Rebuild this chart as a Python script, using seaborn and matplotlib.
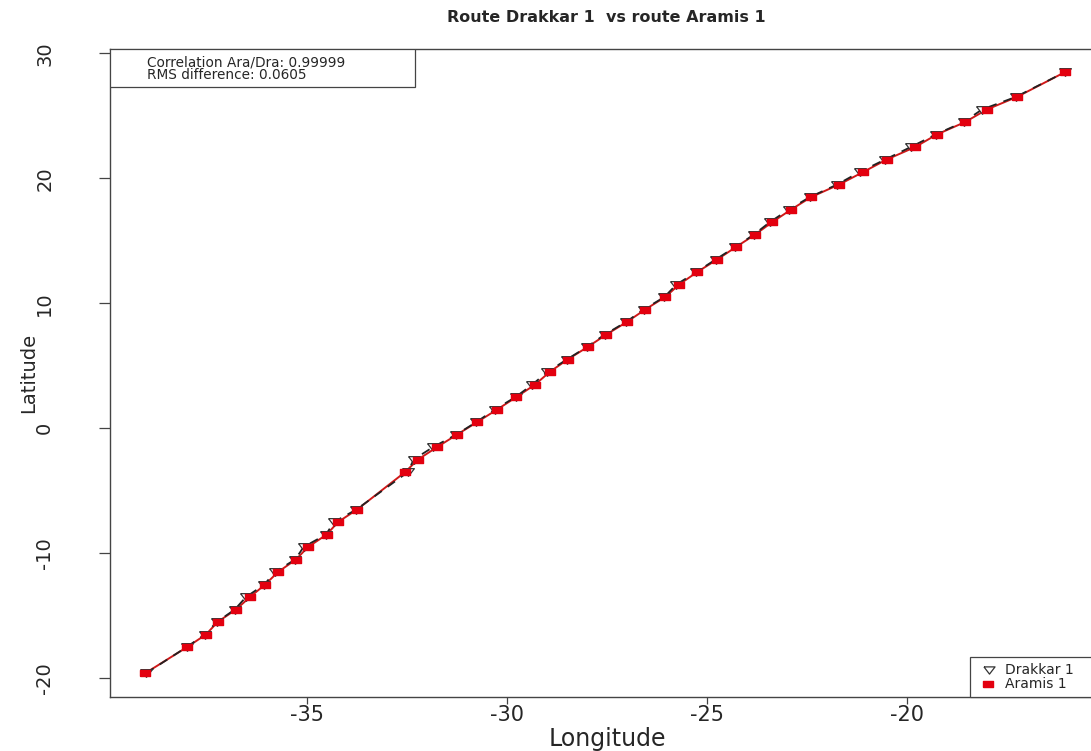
"""
Route comparison plot: Drakkar 1 vs Aramis 1 (longitude / latitude track)
"""
import matplotlib
matplotlib.use("Agg")
import matplotlib.pyplot as plt
import seaborn as sns
import pandas as pd
from matplotlib.lines import Line2D
from matplotlib.patches import Rectangle

# --- data -------------------------------------------------------------------
lat_ara = [-19.6, -17.5, -16.5, -15.5, -14.5, -13.5, -12.5, -11.5, -10.5, -9.5,
           -8.5, -7.5, -6.5, -3.5, -2.5, -1.5, -0.5, 0.5, 1.5, 2.5,
           3.5, 4.5, 5.5, 6.5, 7.5, 8.5, 9.5, 10.5, 11.5, 12.5,
           13.5, 14.5, 15.5, 16.5, 17.5, 18.5, 19.5, 20.5, 21.5, 22.5,
           23.5, 24.5, 25.5, 26.5, 28.5]
lon_ara = [-39.04, -37.99, -37.52, -37.23, -36.77, -36.42, -36.04, -35.72, -35.27, -34.97,
           -34.50, -34.22, -33.74, -32.54, -32.22, -31.74, -31.24, -30.74, -30.24, -29.76,
           -29.29, -28.93, -28.48, -27.98, -27.51, -27.00, -26.54, -26.04, -25.69, -25.24,
           -24.74, -24.27, -23.79, -23.36, -22.89, -22.39, -21.69, -21.09, -20.50, -19.79,
           -19.25, -18.54, -18.00, -17.25, -16.04]

lat_dra = lat_ara
lon_dra = [-39.02, -38.00, -37.55, -37.25, -36.80, -36.52, -36.06, -35.80, -35.29, -35.08,
           -34.52, -34.32, -33.76, -32.47, -32.33, -31.84, -31.26, -30.76, -30.30, -29.78,
           -29.36, -28.99, -28.50, -28.00, -27.55, -27.02, -26.58, -26.06, -25.76, -25.26,
           -24.78, -24.29, -23.82, -23.42, -22.95, -22.42, -21.74, -21.18, -20.54, -19.90,
           -19.28, -18.58, -18.12, -17.28, -16.04]

correlation = 0.99999
rms_diff = 0.0605

df_ara = pd.DataFrame({"lon": lon_ara, "lat": lat_ara})
df_dra = pd.DataFrame({"lon": lon_dra, "lat": lat_dra})

# --- figure -------------------------------------------------------------------
sns.set_style("ticks")
plt.rcParams["font.family"] = ["DejaVu Sans"]
plt.rcParams["axes.unicode_minus"] = False

W, H = 1091, 751
fig = plt.figure(figsize=(W / 100, H / 100), dpi=100)
ax = fig.add_axes([110 / W, 1 - 697 / H, (1104 - 110) / W, 648 / H])

# the reference was stretched sideways: wide markers
wide_square = [(-1, -0.65), (1, -0.65), (1, 0.65), (-1, 0.65), (-1, -0.65)]
wide_tri_down = [(-1, 0.65), (1, 0.65), (0, -0.65), (-1, 0.65)]

red = "#E3000F"
sns.lineplot(data=df_ara, x="lon", y="lat", sort=False, ax=ax,
             color="#D01818", linewidth=1.4, zorder=2)
sns.lineplot(data=df_dra, x="lon", y="lat", sort=False, ax=ax,
             color="#222222", linewidth=1.3, linestyle=(0, (5, 4)), zorder=3)
ax.plot(df_dra["lon"], df_dra["lat"], linestyle="none", marker=wide_tri_down,
        markersize=8.5, markerfacecolor="white", markeredgecolor="#333333",
        markeredgewidth=0.9, zorder=4)
ax.plot(df_ara["lon"], df_ara["lat"], linestyle="none", marker=wide_square,
        markersize=7, markerfacecolor=red, markeredgecolor=red, zorder=5)

ax.set_xlim(-39.92, -15.07)
ax.set_ylim(-21.5, 30.34)
ax.set_xticks([-35, -30, -25, -20])
ax.set_yticks([-20, -10, 0, 10, 20, 30])

for side in ["left", "right", "top", "bottom"]:
    ax.spines[side].set_visible(True)
    ax.spines[side].set_color("#444444")
    ax.spines[side].set_linewidth(1.0)

ax.tick_params(axis="x", length=5, width=0.9, color="#444444", labelsize=15, pad=1)
ax.tick_params(axis="y", length=8, width=0.9, color="#444444", labelsize=14, pad=39)
plt.setp(ax.get_yticklabels(), rotation=90, va="center", ha="center")

ax.set_xlabel("Longitude", fontsize=17)
ax.xaxis.set_label_coords(0.5, -0.046)
ax.set_ylabel("Latitude", fontsize=14)
ax.yaxis.set_label_coords(-0.0724, 0.5)

fig.text(606 / W, 1 - 18 / H, "Route Drakkar 1  vs route Aramis 1",
         ha="center", va="center", fontsize=11.5, fontweight="bold")

# statistics box, top left
ax.add_patch(Rectangle((0, 0.9414), 0.307, 0.0586, transform=ax.transAxes,
                       facecolor="white", edgecolor="#444444", linewidth=0.9, zorder=6))
fig.text(147 / W, 1 - 62 / H, f"Correlation Ara/Dra: {correlation}",
         fontsize=9.8, va="center", ha="left", zorder=7)
fig.text(147 / W, 1 - 75 / H, f"RMS difference: {rms_diff}",
         fontsize=9.8, va="center", ha="left", zorder=7)

# legend, bottom right (drawn by hand so it can run off the right edge like the reference)
fig.add_artist(Rectangle((970 / W, 1 - 697 / H), 140 / W, 40 / H, transform=fig.transFigure,
                         facecolor="white", edgecolor="#444444", linewidth=0.9, zorder=8))
fig.add_artist(Line2D([989 / W], [1 - 670 / H], transform=fig.transFigure, linestyle="none",
                      marker=wide_tri_down, markersize=8, markerfacecolor="white",
                      markeredgecolor="#333333", markeredgewidth=0.9, zorder=9))
fig.add_artist(Line2D([988 / W], [1 - 684 / H], transform=fig.transFigure, linestyle="none",
                      marker=wide_square, markersize=6.5, markerfacecolor=red,
                      markeredgecolor=red, zorder=9))
fig.text(1005 / W, 1 - 670 / H, "Drakkar 1", fontsize=10, va="center", ha="left", zorder=9)
fig.text(1005 / W, 1 - 684 / H, "Aramis 1", fontsize=10, va="center", ha="left", zorder=9)

fig.savefig("out.png", dpi=100)
